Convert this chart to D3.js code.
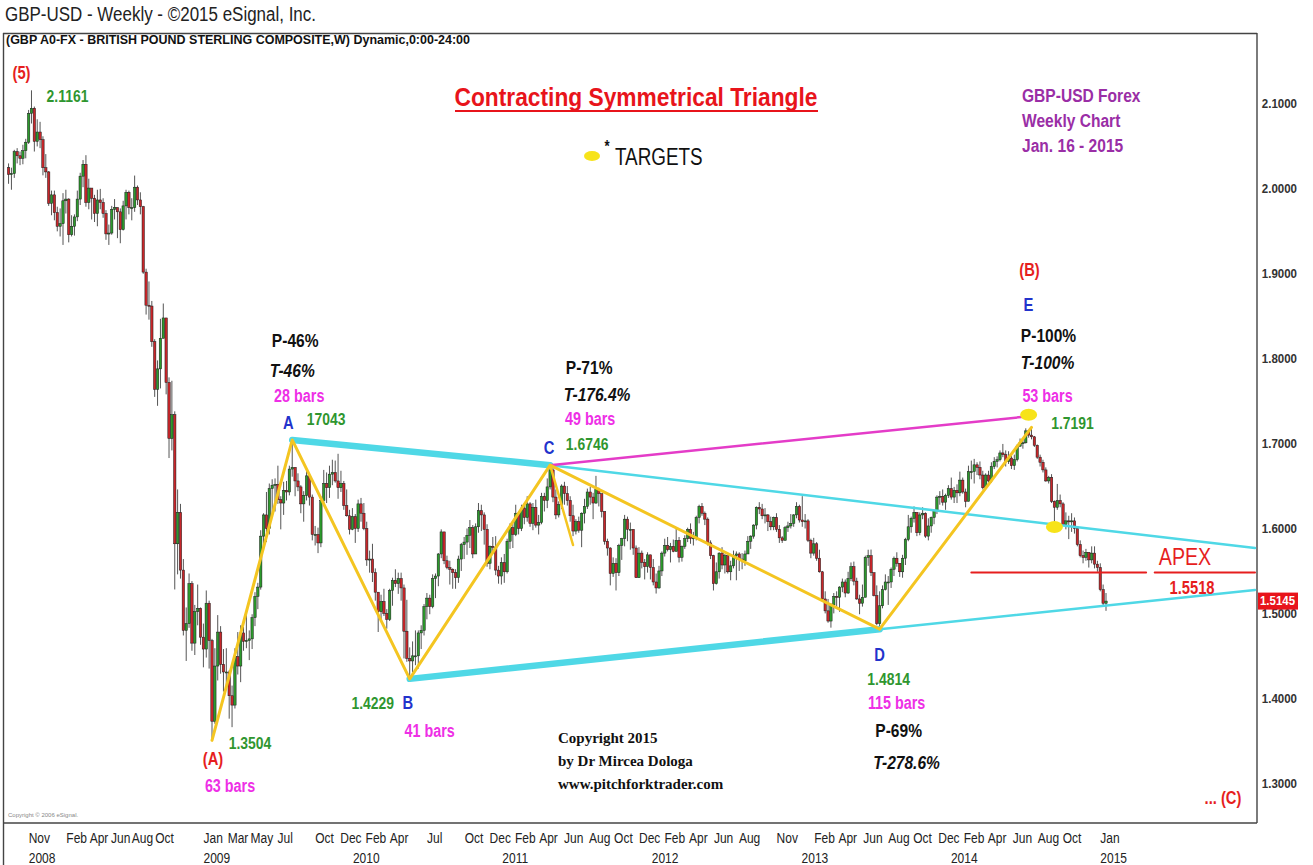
<!DOCTYPE html>
<html><head><meta charset="utf-8">
<script src="https://cdn.jsdelivr.net/npm/d3@7"></script>
<style>body{margin:0;background:#fff}svg{display:block}</style>
</head><body>
<svg id="c" width="1313" height="865"></svg>
<script>
// ---------- DATA (weekly GBP/USD bars, week ending Friday) ----------
const firstWeek = "2007-09-14";
const firstOpen = 2.0250;
const closes = [
// 2007
2.0170,2.0180,2.0440,2.0390,2.0360,2.0450,2.0550,2.0890,2.0950,2.0560,2.0670,2.0580,2.0250,2.0200,1.9830,1.9930,
// 2008
1.9720,1.9560,1.9590,1.9860,1.9880,1.9460,1.9560,1.9670,1.9880,2.0150,2.0290,1.9840,2.0010,1.9890,1.9710,1.9870,1.9840,1.9710,1.9470,1.9480,1.9760,1.9780,1.9730,1.9520,1.9800,1.9960,1.9780,1.9780,2.0020,1.9870,1.9790,1.9020,1.8630,1.8620,1.8200,1.7640,1.7880,1.8240,1.8480,1.7720,1.7060,1.7340,1.5820,1.6190,1.5510,1.4800,1.4880,1.5350,1.4650,1.5020,1.5060,1.4720,
// 2009
1.4580,1.5120,1.4680,1.3730,1.4380,1.4780,1.4400,1.4310,1.4310,1.4030,1.3920,1.4490,1.4380,1.4770,1.4670,1.4680,1.4700,1.4950,1.5200,1.5310,1.5910,1.6160,1.6000,1.6470,1.6510,1.6520,1.6340,1.6300,1.6450,1.6430,1.6700,1.6720,1.6560,1.6490,1.6290,1.6390,1.6620,1.6370,1.5930,1.5930,1.5830,1.6330,1.6530,1.6480,1.6640,1.6660,1.6560,1.6480,1.6530,1.6270,1.6150,1.5990,
// 2010
1.6140,1.6000,1.6290,1.6180,1.6000,1.5630,1.5640,1.5480,1.5250,1.5020,1.5140,1.5000,1.4930,1.5270,1.5390,1.5350,1.5410,1.5300,1.4790,1.4470,1.4440,1.4500,1.4500,1.4770,1.4800,1.5080,1.5180,1.5080,1.5410,1.5440,1.5700,1.5960,1.5620,1.5540,1.5520,1.5480,1.5420,1.5640,1.5810,1.5840,1.5920,1.6010,1.5700,1.6020,1.6210,1.6160,1.5990,1.5590,1.5790,1.5780,1.5510,1.5440,1.5600,
// 2011
1.5490,1.5850,1.6010,1.5930,1.6180,1.6000,1.6240,1.6130,1.6290,1.6060,1.6250,1.6040,1.6070,1.6380,1.6330,1.6490,1.6690,1.6370,1.6160,1.6280,1.6500,1.6410,1.6330,1.6150,1.5970,1.6080,1.5980,1.6180,1.6260,1.6430,1.6370,1.6300,1.6460,1.6410,1.6200,1.5850,1.5770,1.5470,1.5590,1.5480,1.5800,1.5880,1.6110,1.5990,1.5990,1.5770,1.5420,1.5710,1.5600,1.5550,1.5690,1.5540,
// 2012
1.5370,1.5300,1.5500,1.5710,1.5800,1.5750,1.5790,1.5730,1.5860,1.5660,1.5790,1.5880,1.5990,1.5880,1.5890,1.6130,1.6260,1.6180,1.6110,1.5830,1.5680,1.5350,1.5490,1.5710,1.5570,1.5680,1.5490,1.5560,1.5680,1.5700,1.5640,1.5620,1.5700,1.5850,1.5910,1.6040,1.6250,1.6230,1.6150,1.6160,1.6080,1.6020,1.6130,1.5990,1.5890,1.5860,1.6010,1.6030,1.6060,1.6160,1.6260,1.6100,
// 2013
1.6080,1.6090,1.5860,1.5710,1.5820,1.5650,1.5490,1.5170,1.5030,1.4910,1.5100,1.5200,1.5190,1.5310,1.5370,1.5240,1.5410,1.5550,1.5380,1.5170,1.5120,1.5190,1.5660,1.5680,1.5480,1.5210,1.4880,1.5090,1.5280,1.5370,1.5370,1.5520,1.5650,1.5590,1.5490,1.5650,1.5870,1.6020,1.6120,1.6190,1.5950,1.6160,1.6180,1.5910,1.6030,1.6130,1.6210,1.6370,1.6380,1.6310,1.6390,1.6470,
// 2014
1.6370,1.6450,1.6420,1.6570,1.6430,1.6320,1.6670,1.6670,1.6750,1.6720,1.6630,1.6480,1.6630,1.6560,1.6730,1.6790,1.6810,1.6890,1.6870,1.6790,1.6830,1.6740,1.6810,1.6970,1.7010,1.7010,1.7150,1.7100,1.7080,1.6980,1.6840,1.6780,1.6690,1.6560,1.6600,1.6320,1.6250,1.6330,1.6290,1.6050,1.6090,1.6080,1.6090,1.6000,1.5810,1.5680,1.5660,1.5720,1.5630,1.5710,1.5580,1.5540,
// 2015
1.5280,1.5120,1.5145];

const highs = [
2.0300,2.0250,2.0460,2.0480,2.0440,2.0520,2.0590,2.0930,2.1161,2.0970,2.0820,2.0790,2.0620,2.0410,2.0210,1.9980,
1.9980,1.9790,1.9770,1.9950,1.9990,1.9890,1.9690,1.9700,1.9980,2.0190,2.0340,2.0397,2.0120,2.0010,1.9930,1.9990,2.0000,1.9890,1.9750,1.9580,1.9800,1.9880,1.9780,1.9770,1.9860,1.9990,1.9980,1.9890,2.0157,2.0040,1.9960,1.9800,1.9060,1.8910,1.8680,1.8230,1.7980,1.8470,1.8650,1.8480,1.7780,1.7740,1.7380,1.6460,1.6290,1.5640,1.5070,1.5470,1.5380,1.5100,1.5340,1.5070,
1.4880,1.5270,1.5150,1.4700,1.4590,1.4980,1.4850,1.4580,1.4590,1.4330,1.4150,1.4590,1.4780,1.4860,1.4840,1.5010,1.4800,1.4990,1.5250,1.5360,1.5980,1.6180,1.6430,1.6530,1.6580,1.6590,1.6740,1.6380,1.6550,1.6560,1.6740,1.7043,1.6700,1.6650,1.6510,1.6440,1.6700,1.6640,1.6400,1.6030,1.6010,1.6380,1.6690,1.6660,1.6740,1.6810,1.6800,1.6880,1.6680,1.6560,1.6460,1.6220,
1.6240,1.6170,1.6340,1.6360,1.6300,1.6080,1.5740,1.5820,1.5530,1.5250,1.5220,1.5290,1.5050,1.5290,1.5420,1.5520,1.5480,1.5480,1.5340,1.5160,1.4600,1.4670,1.4800,1.4800,1.4860,1.5110,1.5240,1.5220,1.5460,1.5470,1.5710,1.5990,1.5950,1.5680,1.5620,1.5530,1.5520,1.5680,1.5830,1.5900,1.6000,1.6100,1.6040,1.6060,1.6300,1.6280,1.6190,1.6050,1.5800,1.5900,1.5910,1.5560,1.5660,
1.5700,1.5880,1.6060,1.6060,1.6280,1.6200,1.6280,1.6280,1.6380,1.6310,1.6300,1.6340,1.6160,1.6420,1.6420,1.6590,1.6746,1.6720,1.6460,1.6320,1.6520,1.6550,1.6500,1.6380,1.6280,1.6110,1.6140,1.6190,1.6350,1.6470,1.6490,1.6420,1.6620,1.6480,1.6350,1.6200,1.5880,1.5780,1.5660,1.5650,1.5820,1.5890,1.6160,1.6140,1.6070,1.5970,1.5800,1.5780,1.5740,1.5640,1.5720,1.5680,
1.5640,1.5470,1.5560,1.5730,1.5880,1.5900,1.5830,1.5870,1.6000,1.5900,1.5800,1.5920,1.6010,1.6060,1.5960,1.6150,1.6280,1.6300,1.6200,1.6130,1.5860,1.5690,1.5600,1.5720,1.5780,1.5700,1.5680,1.5620,1.5740,1.5730,1.5720,1.5710,1.5740,1.5910,1.5920,1.6050,1.6260,1.6310,1.6290,1.6240,1.6170,1.6140,1.6140,1.6180,1.6040,1.5910,1.6030,1.6080,1.6170,1.6170,1.6310,1.6280,
1.6381,1.6170,1.6110,1.5880,1.5890,1.5840,1.5750,1.5500,1.5260,1.5170,1.5120,1.5240,1.5260,1.5320,1.5410,1.5400,1.5490,1.5600,1.5610,1.5420,1.5220,1.5340,1.5680,1.5750,1.5752,1.5480,1.5330,1.5260,1.5330,1.5460,1.5440,1.5540,1.5670,1.5720,1.5590,1.5690,1.5890,1.6160,1.6140,1.6260,1.6190,1.6190,1.6250,1.6190,1.6120,1.6140,1.6220,1.6390,1.6440,1.6460,1.6410,1.6510,
1.6600,1.6490,1.6520,1.6670,1.6600,1.6470,1.6740,1.6800,1.6820,1.6780,1.6790,1.6680,1.6650,1.6680,1.6780,1.6840,1.6850,1.6920,1.6996,1.6920,1.6910,1.6860,1.6870,1.6990,1.7060,1.7050,1.7180,1.7160,1.7191,1.7090,1.6990,1.6870,1.6810,1.6720,1.6620,1.6640,1.6330,1.6525,1.6400,1.6310,1.6190,1.6150,1.6180,1.6130,1.6010,1.5860,1.5740,1.5760,1.5720,1.5790,1.5790,1.5620,
1.5590,1.5340,1.5240];

const lows = [
2.0060,1.9990,2.0130,2.0300,2.0280,2.0290,2.0360,2.0530,2.0770,2.0440,2.0500,2.0480,2.0160,2.0130,1.9800,1.9690,
1.9630,1.9500,1.9440,1.9340,1.9710,1.9370,1.9440,1.9450,1.9620,1.9810,2.0020,1.9790,1.9760,1.9640,1.9610,1.9560,1.9760,1.9660,1.9400,1.9340,1.9460,1.9640,1.9420,1.9360,1.9510,1.9640,1.9700,1.9630,1.9730,1.9810,1.9700,1.9000,1.8520,1.8460,1.8140,1.7550,1.7445,1.7650,1.8240,1.7580,1.6830,1.6920,1.5282,1.5460,1.5410,1.4740,1.4440,1.4830,1.4560,1.4510,1.4860,1.4630,
1.4365,1.4480,1.4350,1.3504,1.3700,1.4210,1.4290,1.4080,1.4130,1.3760,1.3660,1.3880,1.4280,1.4190,1.4560,1.4590,1.4450,1.4580,1.4850,1.5050,1.5280,1.5750,1.5840,1.5930,1.6140,1.6200,1.6290,1.5990,1.6160,1.6330,1.6390,1.6610,1.6380,1.6440,1.6180,1.6080,1.6330,1.6270,1.5860,1.5800,1.5710,1.5780,1.6270,1.6300,1.6360,1.6510,1.6540,1.6350,1.6430,1.6220,1.6140,1.5930,
1.5980,1.5830,1.5960,1.6080,1.5980,1.5560,1.5480,1.5370,1.5150,1.4781,1.4900,1.4970,1.4820,1.4910,1.5090,1.5310,1.5230,1.5150,1.4470,1.4430,1.4229,1.4310,1.4390,1.4350,1.4580,1.4740,1.4930,1.4990,1.5060,1.5180,1.5320,1.5650,1.5580,1.5520,1.5340,1.5290,1.5290,1.5360,1.5500,1.5640,1.5690,1.5770,1.5650,1.5710,1.5950,1.5970,1.5810,1.5550,1.5520,1.5700,1.5450,1.5350,1.5340,
1.5360,1.5470,1.5760,1.5770,1.5910,1.5930,1.5970,1.6050,1.6080,1.6020,1.5980,1.6010,1.5930,1.6050,1.6200,1.6240,1.6460,1.6310,1.6110,1.6130,1.6230,1.6280,1.6270,1.6080,1.5910,1.5930,1.5950,1.5780,1.6060,1.6230,1.6280,1.6110,1.6290,1.6260,1.6130,1.5810,1.5680,1.5330,1.5430,1.5270,1.5440,1.5630,1.5790,1.5850,1.5750,1.5690,1.5420,1.5420,1.5530,1.5400,1.5480,1.5400,
1.5330,1.5234,1.5290,1.5440,1.5670,1.5730,1.5600,1.5720,1.5760,1.5600,1.5610,1.5760,1.5840,1.5820,1.5800,1.5860,1.6060,1.6150,1.6040,1.5800,1.5640,1.5270,1.5340,1.5410,1.5520,1.5470,1.5470,1.5390,1.5530,1.5390,1.5500,1.5520,1.5560,1.5700,1.5760,1.5880,1.5990,1.6170,1.6110,1.6060,1.5970,1.5980,1.5980,1.5960,1.5830,1.5830,1.5860,1.5960,1.6000,1.6020,1.6120,1.6070,
1.6020,1.6000,1.5840,1.5650,1.5680,1.5620,1.5480,1.5160,1.5000,1.4890,1.4832,1.5000,1.5080,1.5020,1.5250,1.5190,1.5230,1.5380,1.5330,1.5160,1.4990,1.5080,1.5200,1.5560,1.5440,1.5200,1.4860,1.4814,1.5060,1.5270,1.5100,1.5300,1.5440,1.5550,1.5430,1.5420,1.5570,1.5850,1.5950,1.6070,1.5910,1.5920,1.6110,1.5890,1.5860,1.5950,1.6050,1.6170,1.6280,1.6270,1.6220,1.6360,
1.6340,1.6300,1.6300,1.6380,1.6410,1.6250,1.6340,1.6580,1.6530,1.6630,1.6580,1.6460,1.6480,1.6540,1.6540,1.6700,1.6720,1.6790,1.6840,1.6730,1.6760,1.6700,1.6690,1.6790,1.6960,1.6940,1.7000,1.7070,1.7050,1.6960,1.6820,1.6730,1.6660,1.6550,1.6530,1.6300,1.6051,1.6220,1.6250,1.6030,1.5990,1.5875,1.5960,1.5940,1.5790,1.5660,1.5590,1.5620,1.5540,1.5590,1.5530,1.5490,
1.5260,1.5080,1.5030];

const priceTicks = [2.1, 2.0, 1.9, 1.8, 1.7, 1.6, 1.5, 1.4, 1.3];
// month labels as placed on the reference time axis
const monthTicks = [
["2007-11-01","Nov"],["2008-02-01","Feb"],["2008-03-29","Apr"],["2008-05-20","Jun"],["2008-07-10","Aug"],["2008-09-05","Oct"],
["2009-01-01","Jan"],["2009-03-01","Mar"],["2009-04-26","May"],["2009-07-01","Jul"],["2009-10-01","Oct"],["2009-12-01","Dec"],
["2010-02-01","Feb"],["2010-04-01","Apr"],["2010-07-01","Jul"],["2010-10-01","Oct"],["2010-12-01","Dec"],
["2011-02-01","Feb"],["2011-04-01","Apr"],["2011-06-01","Jun"],["2011-08-01","Aug"],["2011-10-01","Oct"],["2011-12-01","Dec"],
["2012-02-01","Feb"],["2012-04-01","Apr"],["2012-06-01","Jun"],["2012-08-01","Aug"],["2012-11-01","Nov"],
["2013-02-01","Feb"],["2013-04-01","Apr"],["2013-06-01","Jun"],["2013-08-01","Aug"],["2013-10-01","Oct"],["2013-12-01","Dec"],
["2014-02-01","Feb"],["2014-04-01","Apr"],["2014-06-01","Jun"],["2014-08-01","Aug"],["2014-10-01","Oct"],["2015-01-01","Jan"]];
const yearTicks = [["2007-11-01","2008"],["2009-01-01","2009"],["2010-01-01","2010"],["2011-01-01","2011"],["2012-01-01","2012"],["2013-01-01","2013"],["2014-01-01","2014"],["2015-01-01","2015"]];

// wave pivots (date, price)
const pivotNames  = ["(5)","(A)","A","B","C","D","E"];
const pivotDates  = ["2007-11-09","2009-01-23","2009-08-07","2010-05-21","2011-04-29","2013-07-12","2014-07-18"];
const pivotPrices = [2.1161, 1.3504, 1.7043, 1.4229, 1.6746, 1.4814, 1.7191];

// drawn lines: [date, price] end points
const upperThick = [["2009-08-07",1.7043],["2011-04-29",1.6746]];
const upperThin  = [["2011-04-29",1.6746],["2016-01-15",1.5770]];
const lowerThick = [["2010-05-21",1.4229],["2013-07-12",1.4814]];
const lowerThin  = [["2013-07-12",1.4814],["2016-01-15",1.5276]];
const magentaLine = [["2011-04-29",1.6746],["2014-07-18",1.7325]];
const yellowPath = [["2009-01-23",1.3504],["2009-08-07",1.7043],["2010-05-21",1.4229],["2011-04-29",1.6746],["2013-07-12",1.4814],["2014-07-18",1.7191]];
const yellowSpur = [["2011-04-29",1.6746],["2011-06-24",1.5806]];
const apexLevel = 1.5481;
const apexSegments = [["2014-02-21","2015-04-24"],["2015-05-15","2016-01-15"]];
const targets = [["2014-07-11",1.7340],["2014-09-12",1.6018]];

// pivot text annotations: [pivot, text, dx, dy, style]
const notes = [
["(5)","(5)",-10,-18,"red"],["(5)","2.1161",36,6,"green"],
["(A)","(A)",1,18,"red"],["(A)","1.3504",38,3,"green"],["(A)","63 bars",18,46,"mag"],
["A","P-46%",3,-100,"blk"],["A","T-46%",0,-70,"blkI"],["A","28 bars",7,-44,"mag"],["A","A",-4,-18,"blue"],["A","17043",34,-21,"green"],
["B","1.4229",-37,24,"green"],["B","B",-2,24,"blue"],["B","41 bars",20,52,"mag"],
["C","P-71%",39,-98,"blk"],["C","T-176.4%",47,-71,"blkI"],["C","49 bars",40,-46,"mag"],["C","C",-1,-18,"blue"],["C","1.6746",37,-21,"green"],
["D","D",0,25,"blue"],["D","1.4814",9,50,"green"],["D","115 bars",17,74,"mag"],["D","P-69%",19,101,"blk"],["D","T-278.6%",27,133,"blkI"],
["E","(B)",-2,-158,"red"],["E","E",-3,-123,"blue"],["E","P-100%",17,-92,"blk"],["E","T-100%",16,-65,"blkI"],["E","53 bars",16,-31,"mag"],["E","1.7191",41,-4,"green"]
];

// ---------- DRAW ----------
const SANS = "'Liberation Sans',Arial,sans-serif";
const SERIF = "'Liberation Serif','Times New Roman',serif";
const NARROW_SCALE = 0.82;
const colors = {red:"#e61e1e", green:"#2f962f", mag:"#ee2fe6", blk:"#111", blkI:"#111", blue:"#2233cc"};
const sizes  = {red:18, green:17, mag:17.5, blk:19, blkI:19, blue:18};
const parse = d3.utcParse("%Y-%m-%d");
const svg = d3.select("#c");
svg.append("rect").attr("width",1313).attr("height",865).attr("fill","#fff");

const x = d3.scaleUtc().domain([parse("2009-01-23"), parse("2015-01-16")]).range([212, 1106]);
const y = d3.scaleLinear().domain([1.3, 2.1]).range([783.2, 104]);

const plot = {l:4, r:1257, t:34, b:823};
svg.append("clipPath").attr("id","clip").append("rect")
  .attr("x",plot.l).attr("y",plot.t).attr("width",plot.r-plot.l).attr("height",plot.b-plot.t);

// frame
const frame = svg.append("g").attr("stroke","#444").attr("stroke-width",1.4);
frame.append("line").attr("x1",3).attr("x2",plot.r).attr("y1",33.5).attr("y2",33.5);
frame.append("line").attr("x1",3.5).attr("x2",3.5).attr("y1",33).attr("y2",865);
frame.append("line").attr("x1",plot.r).attr("x2",plot.r).attr("y1",33).attr("y2",plot.b);
frame.append("line").attr("x1",3).attr("x2",plot.r).attr("y1",plot.b).attr("y2",plot.b);

// text helper (narrow look = Liberation Sans compressed horizontally)
function txt(px,py,s,o){
  const narrow = o.family===undefined;
  const t = svg.append("text").attr("text-anchor",o.anchor||"middle")
    .attr("dominant-baseline","central").style("font-family",o.family||SANS)
    .style("font-size",(o.size||17)+"px").style("font-weight",o.bold===false?"normal":"bold")
    .style("font-style",o.italic?"italic":"normal").attr("fill",o.color||"#111").text(s);
  if(o.len){ t.attr("x",px).attr("y",py).attr("textLength",o.len).attr("lengthAdjust","spacingAndGlyphs"); }
  else if(narrow){ t.attr("transform",`translate(${px},${py}) scale(${NARROW_SCALE},1)`); }
  else { t.attr("x",px).attr("y",py); }
  return t;
}

// header
txt(5,14,"GBP-USD -  Weekly - \u00A92015 eSignal, Inc.",{anchor:"start",size:20,bold:false,color:"#222",len:311});
txt(6,39,"(GBP A0-FX - BRITISH POUND STERLING COMPOSITE,W) Dynamic,0:00-24:00",{anchor:"start",size:13,color:"#111",len:464});
svg.append("text").attr("x",8).attr("y",817).style("font-family",SANS).style("font-size","6px").attr("fill","#888")
  .text("Copyright \u00A9 2006 eSignal.");

// candles
const t0 = parse(firstWeek).getTime();
const bars = closes.map((c,i)=>{
  const o = i ? closes[i-1] : firstOpen;
  return {d:new Date(t0 + i*7*864e5), o, c, h:Math.max(highs[i],o,c), l:Math.min(lows[i],o,c)};
});
const cg = svg.append("g").attr("clip-path","url(#clip)");
cg.selectAll("line.w").data(bars).join("line").attr("class","w")
  .attr("x1",d=>x(d.d)).attr("x2",d=>x(d.d)).attr("y1",d=>y(d.h)).attr("y2",d=>y(d.l))
  .attr("stroke","#555").attr("stroke-width",1);
cg.selectAll("rect.b").data(bars).join("rect").attr("class","b")
  .attr("x",d=>x(d.d)-1.2).attr("width",2.4)
  .attr("y",d=>y(Math.max(d.o,d.c))).attr("height",d=>Math.max(1,Math.abs(y(d.o)-y(d.c))))
  .attr("fill",d=>d.c>=d.o?"#2c9a2c":"#c8262a").attr("stroke","#1a1a1a").attr("stroke-width",0.5);

// trend lines
const ln = d3.line().x(p=>x(parse(p[0]))).y(p=>y(p[1]));
const lg = svg.append("g").attr("clip-path","url(#clip)").attr("fill","none").attr("stroke-linecap","round");
lg.append("path").attr("d",ln(upperThin)).attr("stroke","#4fd8e6").attr("stroke-width",2.5);
lg.append("path").attr("d",ln(lowerThin)).attr("stroke","#4fd8e6").attr("stroke-width",2.5);
lg.append("path").attr("d",ln(upperThick)).attr("stroke","#4fd8e6").attr("stroke-width",6.5);
lg.append("path").attr("d",ln(lowerThick)).attr("stroke","#4fd8e6").attr("stroke-width",6.5);
lg.append("path").attr("d",ln(magentaLine)).attr("stroke","#e43cc8").attr("stroke-width",2.5);
lg.append("path").attr("d",ln(yellowPath)).attr("stroke","#f4c521").attr("stroke-width",3).attr("stroke-linejoin","round");
lg.append("path").attr("d",ln(yellowSpur)).attr("stroke","#f4c521").attr("stroke-width",2.5);
apexSegments.forEach(s=>{
  lg.append("line").attr("x1",x(parse(s[0]))).attr("x2",x(parse(s[1])))
    .attr("y1",y(apexLevel)).attr("y2",y(apexLevel)).attr("stroke","#e61e1e").attr("stroke-width",2);
});
targets.forEach(t=>{
  svg.append("ellipse").attr("cx",x(parse(t[0]))).attr("cy",y(t[1])).attr("rx",8.5).attr("ry",6).attr("fill","#f7e31a");
});

// pivot notes
notes.forEach(n=>{
  const i = pivotNames.indexOf(n[0]);
  const px = x(parse(pivotDates[i])), py = y(pivotPrices[i]);
  const st = n[4];
  txt(px+n[2], py+n[3], n[1], {color:colors[st], italic:st==="blkI", size:sizes[st]});
});

// right side notes
txt(1185,557,"APEX",{color:"#e61e1e",size:24,bold:false});
txt(1192,587,"1.5518",{color:"#e61e1e",size:18});
txt(1223,797,"... (C)",{color:"#e61e1e",size:18});

// title
txt(636,97,"Contracting Symmetrical Triangle",{color:"#e8141b",size:25,len:363});
svg.append("line").attr("x1",455).attr("x2",818).attr("y1",111).attr("y2",111).attr("stroke","#e8141b").attr("stroke-width",2);
svg.append("ellipse").attr("cx",592).attr("cy",156).attr("rx",8).attr("ry",5).attr("fill","#f7e31a");
txt(607,147,"*",{size:16,color:"#111"});
txt(615,157,"TARGETS",{anchor:"start",size:23,bold:false,color:"#111"});

// purple info
["GBP-USD Forex","Weekly Chart","Jan. 16  - 2015"].forEach((s,i)=>{
  txt(1022,95+i*25,s,{anchor:"start",size:19,color:"#9a2ea6"});
});

// copyright block
["Copyright 2015","by Dr Mircea Dologa","www.pitchforktrader.com"].forEach((s,i)=>{
  txt(558,738+i*23,s,{anchor:"start",family:SERIF,size:15,color:"#111"});
});

// price axis
const yAxis = d3.axisRight(y).tickValues(priceTicks).tickFormat(d3.format(".4f")).tickSize(0).tickPadding(5);
const ya = svg.append("g").attr("transform",`translate(${plot.r},0)`).call(yAxis);
ya.select(".domain").remove();
ya.selectAll("text").style("font-family",SANS).style("font-size","12px").style("font-weight","bold")
  .attr("fill","#333").attr("transform","scale(0.96,1)");

// last price box
const last = bars[bars.length-1];
svg.append("rect").attr("x",plot.r+1).attr("y",y(last.c)-8.5).attr("width",40).attr("height",17).attr("fill","#e8141b");
svg.append("text").attr("x",plot.r+3).attr("y",y(last.c)).attr("dominant-baseline","central")
  .style("font-family",SANS).style("font-size","12px").style("font-weight","bold").attr("fill","#fff")
  .attr("textLength",35).attr("lengthAdjust","spacingAndGlyphs").text(d3.format(".4f")(last.c));

// time axis
const mAxis = d3.axisBottom(x).tickValues(monthTicks.map(m=>parse(m[0])))
  .tickFormat((d,i)=>monthTicks[i][1]).tickSize(0).tickPadding(0);
const ma = svg.append("g").attr("transform","translate(0,832)").call(mAxis);
ma.select(".domain").remove();
ma.selectAll("text").attr("text-anchor","start").style("font-family",SANS).style("font-size","15px")
  .attr("fill","#222").attr("transform","scale(0.8,1)");
const yrAxis = d3.axisBottom(x).tickValues(yearTicks.map(m=>parse(m[0])))
  .tickFormat((d,i)=>yearTicks[i][1]).tickSize(0).tickPadding(0);
const yra = svg.append("g").attr("transform","translate(0,852)").call(yrAxis);
yra.select(".domain").remove();
yra.selectAll("text").attr("text-anchor","start").style("font-family",SANS).style("font-size","15px")
  .attr("fill","#222").attr("transform","scale(0.8,1)");
</script>
</body></html>
